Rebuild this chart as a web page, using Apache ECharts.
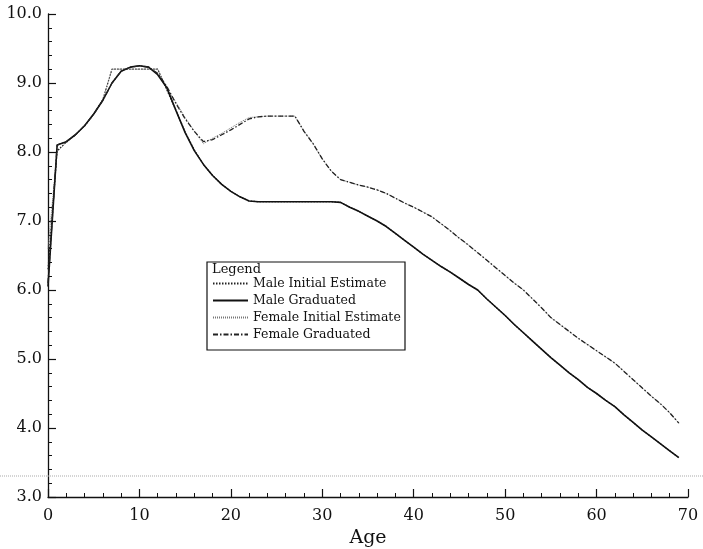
<!DOCTYPE html>
<html>
<head>
<meta charset="utf-8">
<script src="https://cdn.jsdelivr.net/npm/echarts@6/dist/echarts.min.js"></script>
<style>
html,body{margin:0;padding:0;background:#fff;}
#chart{width:703px;height:549px;}
</style>
</head>
<body>
<div id="chart"></div>
<script>
var ages = [0,1,2,3,4,5,6,7,8,9,10,11,12,13,14,15,16,17,18,19,20,21,22,23,24,25,26,27,28,29,30,31,32,33,34,35,36,37,38,39,40,41,42,43,44,45,46,47,48,49,50,51,52,53,54,55,56,57,58,59,60,61,62,63,64,65,66,67,68,69];

var maleInitial = [6.3,8.02,8.14,8.25,8.38,8.55,8.76,9.2,9.2,9.2,9.2,9.2,9.2,8.9,8.6,8.29,8.03,7.82,7.66,7.53,7.43,7.35,7.29,7.28,7.28,7.28,7.28,7.28,7.28,7.28,7.28,7.28,7.27,7.2,7.14,7.07,7.0,6.92,6.82,6.72,6.62,6.52,6.43,6.34,6.26,6.17,6.08,6.0,5.87,5.75,5.63,5.5,5.38,5.26,5.14,5.02,4.91,4.8,4.7,4.59,4.5,4.4,4.31,4.19,4.08,3.97,3.87,3.77,3.67,3.57];

var maleGraduated = [6.05,8.1,8.15,8.25,8.38,8.55,8.75,9.0,9.17,9.23,9.25,9.23,9.12,8.93,8.6,8.28,8.02,7.82,7.66,7.53,7.43,7.35,7.29,7.28,7.28,7.28,7.28,7.28,7.28,7.28,7.28,7.28,7.27,7.2,7.14,7.07,7.0,6.92,6.82,6.72,6.62,6.52,6.43,6.34,6.26,6.17,6.08,6.0,5.87,5.75,5.63,5.5,5.38,5.26,5.14,5.02,4.91,4.8,4.7,4.59,4.5,4.4,4.31,4.19,4.08,3.97,3.87,3.77,3.67,3.57];

var femaleInitial = [6.6,8.0,8.14,8.25,8.38,8.55,8.76,9.2,9.2,9.2,9.2,9.2,9.2,8.92,8.72,8.5,8.3,8.12,8.2,8.27,8.35,8.43,8.5,8.51,8.52,8.52,8.52,8.52,8.3,8.12,7.9,7.72,7.6,7.56,7.52,7.49,7.45,7.4,7.33,7.26,7.2,7.13,7.06,6.96,6.86,6.75,6.65,6.54,6.43,6.32,6.21,6.1,6.0,5.87,5.74,5.6,5.5,5.4,5.3,5.21,5.12,5.03,4.94,4.82,4.7,4.58,4.46,4.35,4.22,4.07];

var femaleGraduated = [6.1,8.1,8.15,8.25,8.38,8.55,8.75,9.0,9.17,9.23,9.25,9.23,9.14,8.95,8.7,8.48,8.3,8.15,8.18,8.25,8.32,8.4,8.48,8.51,8.52,8.52,8.52,8.52,8.3,8.12,7.9,7.72,7.6,7.56,7.52,7.49,7.45,7.4,7.33,7.26,7.2,7.13,7.06,6.96,6.86,6.75,6.65,6.54,6.43,6.32,6.21,6.1,6.0,5.87,5.74,5.6,5.5,5.4,5.3,5.21,5.12,5.03,4.94,4.82,4.7,4.58,4.46,4.35,4.22,4.07];

var seriesNames = ['Male Initial Estimate','Male Graduated','Female Initial Estimate','Female Graduated'];
var xTickLabels = ['0','10','20','30','40','50','60','70'];
var yTickLabels = ['3.0','4.0','5.0','6.0','7.0','8.0','9.0','10.0'];

function pairs(vals){ return ages.map(function(a,i){ return [a, vals[i]]; }); }

var FONT = 'DejaVu Serif';
var chart = echarts.init(document.getElementById('chart'), null, {renderer:'canvas'});

function mkSeries(name, vals, style, z){
  return {
    name: name, type: 'line', data: pairs(vals), showSymbol: false, symbol: 'none',
    smooth: false, lineStyle: style, itemStyle: {color: style.color}, z: z, animation: false
  };
}

chart.setOption({
  animation: false,
  backgroundColor: '#fff',
  grid: {left: 48, right: 15, top: 14, bottom: 52, containLabel: false, outerBoundsMode: 'none'},
  xAxis: {
    type: 'value', min: 0, max: 70, interval: 10,
    name: 'Age', nameLocation: 'middle', nameGap: 32,
    nameTextStyle: {fontFamily: FONT, fontSize: 19, color: '#111'},
    axisLine: {show: true, lineStyle: {color: '#111', width: 1.3}},
    axisTick: {show: true, inside: true, length: 8, lineStyle: {color: '#111', width: 1.2}},
    minorTick: {show: true, splitNumber: 5, length: 4, lineStyle: {color: '#111', width: 1}},
    splitLine: {show: false},
    axisLabel: {fontFamily: FONT, fontSize: 16, color: '#111', margin: 11,
      formatter: function(v){ return xTickLabels[Math.round(v/10)]; }}
  },
  yAxis: {
    type: 'value', min: 3, max: 10, interval: 1,
    axisLine: {show: true, lineStyle: {color: '#111', width: 1.3}},
    axisTick: {show: true, inside: true, length: 8, lineStyle: {color: '#111', width: 1.2}},
    minorTick: {show: true, splitNumber: 5, length: 4, lineStyle: {color: '#111', width: 1}},
    splitLine: {show: false},
    axisLabel: {fontFamily: FONT, fontSize: 16, color: '#111', margin: 6,
      formatter: function(v){ return yTickLabels[Math.round(v-3)]; }}
  },
  legend: {
    orient: 'vertical', left: 212, top: 277, itemGap: 4,
    itemWidth: 35, itemHeight: 12, padding: 0,
    itemStyle: {opacity: 0},
    textStyle: {fontFamily: FONT, fontSize: 12.5, color: '#111'},
    data: seriesNames, selectedMode: false, z: 20
  },
  graphic: [
    {type: 'line', z: 1, shape: {x1: 0, y1: 476, x2: 703, y2: 476},
     style: {stroke: '#aaa', lineWidth: 1, lineDash: [1, 1]}},
    {type: 'rect', z: 10, shape: {x: 207, y: 262, width: 198, height: 88},
     style: {fill: '#fff', stroke: '#111', lineWidth: 1.2}},
    {type: 'text', z: 11, left: 212, top: 263,
     style: {text: 'Legend', fontFamily: FONT, fontSize: 13, fill: '#111'}}
  ],
  series: [
    mkSeries(seriesNames[0], maleInitial, {color: '#222', width: 1.2, type: [1.5, 1.5]}, 3),
    mkSeries(seriesNames[1], maleGraduated, {color: '#111', width: 1.6, type: 'solid'}, 4),
    mkSeries(seriesNames[2], femaleInitial, {color: '#777', width: 1, type: [1, 1]}, 3),
    mkSeries(seriesNames[3], femaleGraduated, {color: '#222', width: 1.3, type: [5, 2, 1.5, 2]}, 4)
  ]
});
</script>
</body>
</html>
